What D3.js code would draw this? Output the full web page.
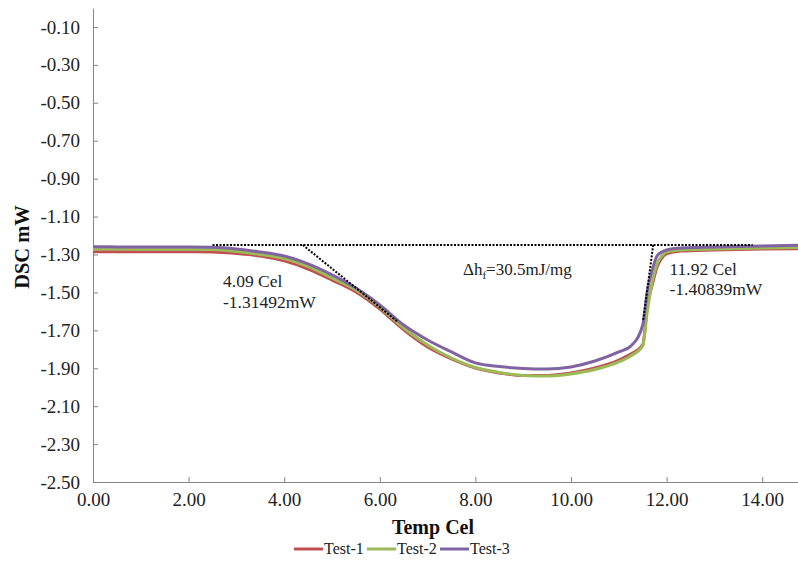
<!DOCTYPE html>
<html><head><meta charset="utf-8">
<script src="https://cdn.jsdelivr.net/npm/d3@7"></script>
<style>body{margin:0;background:#fff}svg{display:block}</style>
</head><body><svg id="c" width="798" height="565"></svg>
<script>
const temps =  [0,0.5,1,1.5,2,2.5,3,3.5,4,4.5,5,5.5,6,6.5,7,7.5,8,8.5,9,9.5,10,10.5,11,11.25,11.5,11.6,11.7,11.8,11.9,12,12.3,13,14,15];
const test1 = [-1.285,-1.285,-1.286,-1.286,-1.286,-1.287,-1.295,-1.308,-1.334,-1.377,-1.435,-1.498,-1.588,-1.698,-1.788,-1.851,-1.899,-1.925,-1.938,-1.938,-1.925,-1.899,-1.857,-1.825,-1.777,-1.566,-1.461,-1.366,-1.319,-1.297,-1.282,-1.276,-1.271,-1.269];
const test2 = [-1.271,-1.271,-1.272,-1.272,-1.272,-1.274,-1.284,-1.300,-1.321,-1.363,-1.424,-1.487,-1.577,-1.688,-1.777,-1.846,-1.896,-1.922,-1.938,-1.941,-1.930,-1.907,-1.867,-1.835,-1.783,-1.593,-1.445,-1.350,-1.308,-1.287,-1.276,-1.271,-1.266,-1.263];
const test3 = [-1.259,-1.260,-1.260,-1.260,-1.260,-1.262,-1.271,-1.287,-1.308,-1.350,-1.408,-1.477,-1.566,-1.672,-1.751,-1.814,-1.872,-1.891,-1.901,-1.904,-1.893,-1.862,-1.814,-1.783,-1.672,-1.487,-1.382,-1.308,-1.287,-1.276,-1.266,-1.261,-1.255,-1.250];
const seriesNames = ["Test-1","Test-2","Test-3"];
const seriesColors = ["#C0504D","#9BBB59","#8064A2"];
const xTicks = [0,2,4,6,8,10,12,14];
const yTicks = [-2.5,-2.3,-2.1,-1.9,-1.7,-1.5,-1.3,-1.1,-0.9,-0.7,-0.5,-0.3,-0.1];
const baseline = [[2.5,-1.25],[13.8,-1.25]];
const tangentLeft = [[4.39,-1.25],[6.38,-1.656]];
const tangentRight = [[11.72,-1.25],[11.51,-1.646]];
const annotations = [
  {t:2.72, v:-1.472, lines:["4.09 Cel","-1.31492mW"]},
  {t:12.06, v:-1.408, lines:["11.92 Cel","-1.40839mW"]}
];
const dhPos = {t:7.74, v:-1.408};

function pickFont(cands){
  const ctx = document.createElement("canvas").getContext("2d");
  const s = "mmmmmmmmiiiiiWWW0123456789";
  const w = f => { ctx.font = "40px " + f; return ctx.measureText(s).width; };
  const base = [w("monospace"), w("sans-serif")];
  for (const c of cands) {
    const a = w("'" + c + "', monospace"), b = w("'" + c + "', sans-serif");
    if (Math.abs(a - base[0]) > 0.5 || Math.abs(b - base[1]) > 0.5) return "'" + c + "'";
  }
  return "serif";
}
const FONT = pickFont(["Liberation Serif","Times New Roman","Tinos","DejaVu Serif","Noto Serif"]) + ", serif";

const svg = d3.select("#c").attr("font-family", FONT);
const x = d3.scaleLinear().domain([0,16]).range([93, 93+16*47.8]);
const y = d3.scaleLinear().domain([-2.5,0]).range([482, 8]);
const axisColor = "#868686";
const fmt = d => d.toFixed(2);

// axes
const xa = svg.append("g").attr("transform","translate(0,482)")
  .call(d3.axisBottom(x).tickValues(xTicks).tickSizeInner(-5).tickSizeOuter(0).tickPadding(11).tickFormat(fmt));
xa.attr("font-family", FONT);
xa.select(".domain").attr("stroke",axisColor).attr("d","M93,0.5H798");
xa.selectAll("line").attr("stroke",axisColor);
xa.selectAll("text").attr("font-size",19).attr("fill","#222").style("font-family",FONT);
const ya = svg.append("g").attr("transform","translate(93,0)")
  .call(d3.axisLeft(y).tickValues(yTicks).tickSizeInner(-5).tickSizeOuter(0).tickPadding(13).tickFormat(fmt));
ya.attr("font-family", FONT);
ya.select(".domain").attr("stroke",axisColor);
ya.selectAll("line").attr("stroke",axisColor);
ya.selectAll("text").attr("font-size",19).attr("fill","#222").style("font-family",FONT);

// series
const line = d3.line().x(d=>x(d[0])).y(d=>y(d[1])).curve(d3.curveMonotoneX);
[test1,test2,test3].forEach((s,i)=>{
  svg.append("path").datum(temps.map((t,j)=>[t,s[j]]))
    .attr("fill","none").attr("stroke",seriesColors[i]).attr("stroke-width",3)
    .attr("stroke-linejoin","round").attr("d",line);
});

// dotted construction lines
const lin = d3.line().x(d=>x(d[0])).y(d=>y(d[1]));
[baseline,tangentLeft,tangentRight].forEach(p=>{
  svg.append("path").datum(p).attr("d",lin).attr("fill","none")
    .attr("stroke","#000").attr("stroke-width",2).attr("stroke-dasharray","2,1.5");
});

// annotations
annotations.forEach((a,k)=>{
  const t = svg.append("text").attr("x",x(a.t)).attr("y",y(a.v)).attr("font-size",17.5).attr("fill","#222").style("font-family",FONT);
  a.lines.forEach((l,i)=>t.append("tspan").attr("x",x(a.t)).attr("dy",i?(k?20:21):0).text(l));
});
const dh = svg.append("text").attr("x",x(dhPos.t)).attr("y",y(dhPos.v)).attr("font-size",17).attr("fill","#222").style("font-family",FONT);
dh.append("tspan").text("Δh");
dh.append("tspan").attr("font-size",11).attr("dy",4).text("f");
dh.append("tspan").attr("dy",-4).text("=30.5mJ/mg");

// axis titles
svg.append("text").attr("transform","translate(29,247) rotate(-90)").attr("text-anchor","middle").style("font-family",FONT)
  .attr("font-size",20.5).attr("font-weight","bold").attr("fill","#111").text("DSC mW");
svg.append("text").attr("x",433).attr("y",534).attr("text-anchor","middle").style("font-family",FONT)
  .attr("font-size",20).attr("font-weight","bold").attr("fill","#111").text("Temp Cel");

// legend
const lg = svg.append("g");
seriesNames.forEach((n,i)=>{
  const x0 = 294 + i*73;
  lg.append("line").attr("x1",x0).attr("x2",x0+29).attr("y1",549).attr("y2",549)
    .attr("stroke",seriesColors[i]).attr("stroke-width",3);
  lg.append("text").attr("x",x0+30).attr("y",554).attr("font-size",16).attr("fill","#222").style("font-family",FONT).text(n);
});
</script></body></html>
